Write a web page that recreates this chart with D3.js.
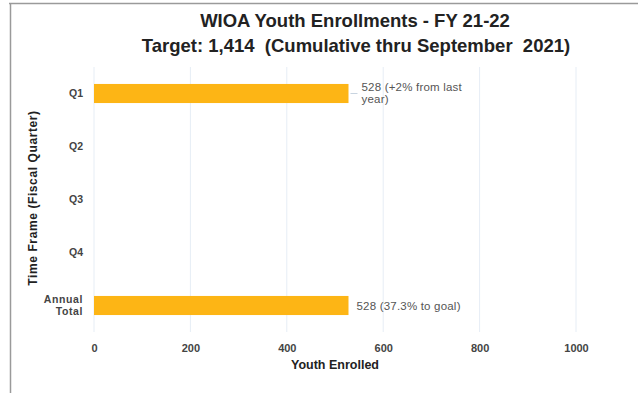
<!DOCTYPE html>
<html>
<head>
<meta charset="utf-8">
<script src="https://cdn.jsdelivr.net/npm/d3@7"></script>
<style>
  body { margin: 0; background: #fff; }
  svg { font-family: "Liberation Sans", Arial, sans-serif; display: block; }
</style>
</head>
<body>
<div id="chart"></div>
<script>
// data
const categories = ["Q1", "Q2", "Q3", "Q4", "Annual Total"];
const enrolled = [528, null, null, null, 528];
const barLabels = ["528 (+2% from last year)", "", "", "", "528 (37.3% to goal)"];
const xTicks = [0, 200, 400, 600, 800, 1000];

const width = 638, height = 393;
const margin = { top: 67, right: 62, bottom: 61, left: 94 };
const innerWidth = width - margin.left - margin.right;
const innerHeight = height - margin.top - margin.bottom;

const svg = d3.select("#chart").append("svg")
    .attr("width", width)
    .attr("height", height);

// frame lines
svg.append("line").attr("x1", 9).attr("x2", width).attr("y1", 3.5).attr("y2", 3.5)
    .attr("stroke", "#9a9a9a").attr("stroke-width", 1.5);
svg.append("line").attr("x1", 10.5).attr("x2", 10.5).attr("y1", 3).attr("y2", height)
    .attr("stroke", "#9a9a9a").attr("stroke-width", 1.5);

// titles
svg.append("text").attr("x", 355).attr("y", 27).attr("text-anchor", "middle")
    .style("font-size", "18.5px").style("font-weight", "bold").attr("fill", "#222")
    .text("WIOA Youth Enrollments - FY 21-22");
svg.append("text").attr("x", 356).attr("y", 52).attr("text-anchor", "middle")
    .style("font-size", "18.5px").style("font-weight", "bold").attr("fill", "#222")
    .attr("xml:space", "preserve")
    .text("Target: 1,414  (Cumulative thru September  2021)");

const g = svg.append("g").attr("transform", `translate(${margin.left},${margin.top})`);

const x = d3.scaleLinear().domain([0, 1000]).range([0, innerWidth]);
const y = d3.scaleBand().domain(categories).range([0, innerHeight]).paddingInner(0.64).paddingOuter(0.32);

// grid
g.append("g").selectAll("line").data(xTicks).enter().append("line")
    .attr("x1", d => x(d)).attr("x2", d => x(d))
    .attr("y1", 0).attr("y2", innerHeight)
    .attr("stroke", "#e6edf5").attr("stroke-width", 1);

// x axis
const xAxis = g.append("g").attr("transform", `translate(0,${innerHeight})`)
    .call(d3.axisBottom(x).tickValues(xTicks).tickSize(0).tickPadding(12).tickFormat(d3.format("d")));
xAxis.select(".domain").remove();
xAxis.selectAll("text").style("font-size", "11px").style("font-weight", "bold")
    .attr("fill", "#444").style("font-family", "Liberation Sans, Arial, sans-serif");

// y axis
const yAxis = g.append("g")
    .call(d3.axisLeft(y).tickSize(0).tickPadding(11));
yAxis.select(".domain").remove();
yAxis.selectAll("text").style("font-size", "10.5px").style("font-weight", "bold")
    .attr("fill", "#444").style("font-family", "Liberation Sans, Arial, sans-serif")
    .each(function(d) {
        if (d === "Annual Total") {
            const t = d3.select(this).text(null);
            t.append("tspan").attr("x", -11).attr("dy", "-0.25em").style("letter-spacing", "0.6px").text("Annual");
            t.append("tspan").attr("x", -11).attr("dy", "1.2em").style("letter-spacing", "0.6px").text("Total");
        }
    });

// bars
const barData = categories.map((c, i) => ({ cat: c, v: enrolled[i], label: barLabels[i] }))
    .filter(d => d.v != null);

g.selectAll(".bar").data(barData).enter().append("rect")
    .attr("class", "bar")
    .attr("x", 0)
    .attr("y", d => y(d.cat))
    .attr("width", d => x(d.v))
    .attr("height", y.bandwidth())
    .attr("fill", "#fdb515");

// data labels
barData.forEach(d => {
    const cy = y(d.cat) + y.bandwidth() / 2;
    if (d.cat === "Q1") {
        g.append("line").attr("x1", x(d.v) + 2).attr("x2", x(d.v) + 9)
            .attr("y1", cy).attr("y2", cy)
            .attr("stroke", "#c8d4e0").attr("stroke-width", 1);
        const t = g.append("text").attr("x", x(d.v) + 13).attr("y", cy - 3)
            .style("font-size", "11.5px").style("letter-spacing", "0.2px").attr("fill", "#555");
        t.append("tspan").attr("x", x(d.v) + 13).text("528 (+2% from last");
        t.append("tspan").attr("x", x(d.v) + 13).attr("dy", "1.1em").text("year)");
    } else {
        g.append("text").attr("x", x(d.v) + 8).attr("y", cy + 4)
            .style("font-size", "11.5px").style("letter-spacing", "0.2px").attr("fill", "#555")
            .text(d.label);
    }
});

// axis titles
svg.append("text").attr("x", margin.left + x(500)).attr("y", 369).attr("text-anchor", "middle")
    .style("font-size", "12.5px").style("font-weight", "bold").attr("fill", "#222")
    .text("Youth Enrolled");
svg.append("text").attr("transform", `translate(37,198) rotate(-90)`)
    .attr("text-anchor", "middle")
    .style("font-size", "12px").style("font-weight", "bold").style("letter-spacing", "0.6px").attr("fill", "#222")
    .text("Time Frame (Fiscal Quarter)");
</script>
</body>
</html>
